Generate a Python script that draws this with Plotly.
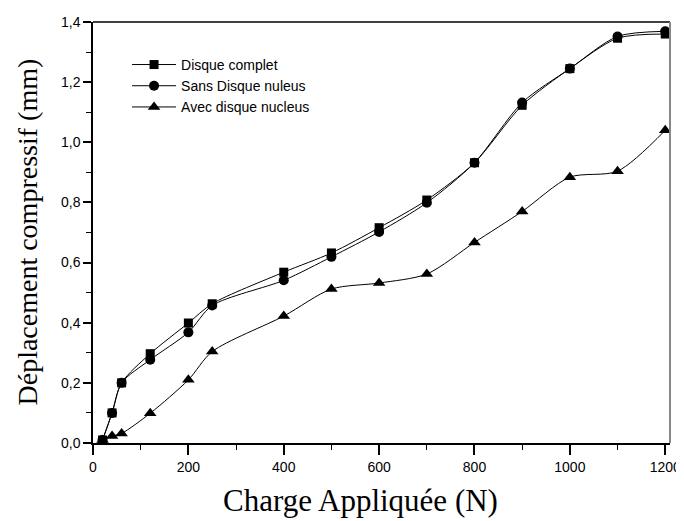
import plotly.graph_objects as go

charge = [20, 40, 60, 120, 200, 250, 400, 500, 600, 700, 800, 900, 1000, 1100, 1200]
disque_complet = [0.01, 0.10, 0.20, 0.297, 0.399, 0.463, 0.568, 0.632, 0.716, 0.808, 0.932, 1.123, 1.245, 1.346, 1.360]
sans_disque = [0.01, 0.10, 0.20, 0.277, 0.368, 0.457, 0.541, 0.619, 0.702, 0.799, 0.932, 1.132, 1.245, 1.352, 1.369]
avec_disque = [0.01, 0.023, 0.032, 0.099, 0.210, 0.304, 0.422, 0.512, 0.532, 0.562, 0.667, 0.770, 0.884, 0.904, 1.040]

x_ticks = [0, 200, 400, 600, 800, 1000, 1200]
x_labels = ["0", "200", "400", "600", "800", "1000", "1200"]
y_ticks = [0.0, 0.2, 0.4, 0.6, 0.8, 1.0, 1.2, 1.4]
y_labels = ["0,0", "0,2", "0,4", "0,6", "0,8", "1,0", "1,2", "1,4"]

series = [
    ("Disque complet", disque_complet, "square", 9),
    ("Sans Disque nuleus", sans_disque, "circle", 10),
    ("Avec disque nucleus", avec_disque, "triangle-up", 11),
]

fig = go.Figure()
for name, ys, sym, sz in series:
    fig.add_trace(go.Scatter(
        x=charge, y=ys, name=name, mode="lines+markers",
        line=dict(color="black", width=1, shape="spline", smoothing=0.8),
        marker=dict(symbol=sym, size=sz, color="black"),
    ))

# page body has an 8px default margin: figure is offset by 8px right/down
fig.update_layout(
    width=676, height=513,
    margin=dict(l=85, r=14, t=14, b=78),
    paper_bgcolor="white", plot_bgcolor="white",
    showlegend=True,
    legend=dict(x=0.059, y=0.936, xanchor="left", yanchor="top",
                bgcolor="rgba(0,0,0,0)", borderwidth=0,
                font=dict(family="Liberation Sans, Arial", size=14, color="black"),
                tracegroupgap=0, itemwidth=44),
    font=dict(family="Liberation Sans, Arial", color="black"),
)

fig.update_xaxes(
    range=[0, 1210], tickvals=x_ticks, ticktext=x_labels, automargin=False,
    showgrid=False, zeroline=False, showline=True, linecolor="black", linewidth=1.5,
    ticks="outside", ticklen=10, tickwidth=1.5, tickcolor="black",
    tickfont=dict(family="Liberation Sans, Arial", size=14, color="black"),
    minor=dict(dtick=100, tick0=0, ticks="outside", ticklen=5, tickwidth=1, tickcolor="black"),
)
fig.update_yaxes(
    range=[0, 1.4], tickvals=y_ticks, ticktext=y_labels, automargin=False,
    showgrid=False, zeroline=False, showline=True, linecolor="black", linewidth=1.5,
    ticks="outside", ticklen=8, tickwidth=1.5, tickcolor="black",
    tickfont=dict(family="Liberation Sans, Arial", size=14, color="black"),
    minor=dict(dtick=0.1, tick0=0, ticks="outside", ticklen=5, tickwidth=1, tickcolor="black"),
)

fig.add_annotation(text="Déplacement compressif (mm)", xref="paper", yref="paper",
                   x=0, y=0.5, xanchor="center", yanchor="middle", textangle=-90,
                   xshift=-66, showarrow=False,
                   font=dict(family="Liberation Serif, Times New Roman", size=28, color="black"))

fig.add_annotation(text="Charge Appliquée (N)", xref="paper", yref="paper",
                   x=(360 - 93) / 577, y=0, xanchor="center", yanchor="middle",
                   yshift=-57, showarrow=False,
                   font=dict(family="Liberation Serif, Times New Roman", size=31, color="black"))

fig.add_shape(type="line", xref="paper", yref="paper", x0=0, x1=1, y0=1, y1=1,
              line=dict(color="black", width=1.5))
fig.add_shape(type="line", xref="paper", yref="paper", x0=1, x1=1, y0=0, y1=1,
              line=dict(color="#888888", width=2))

fig.write_html("out.html")
